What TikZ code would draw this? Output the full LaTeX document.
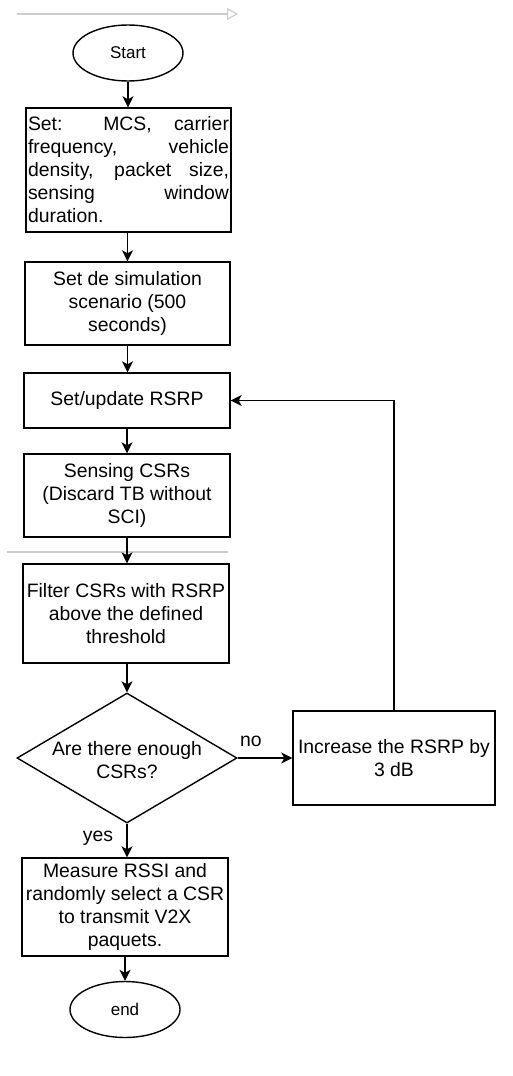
\documentclass[tikz,border=0pt]{standalone}
\usepackage{fontspec}
\setmainfont{Liberation Sans}
\usetikzlibrary{shapes.geometric,arrows.meta}
\definecolor{faint}{HTML}{CCCCCC}
\begin{document}
\begin{tikzpicture}[x=1pt,y=-1pt,
  every node/.style={font=\fontsize{19.4}{23}\selectfont},
  proc/.style={draw, line width=1.4pt, rectangle, align=center, inner sep=2pt},
  term/.style={draw, line width=1.4pt, ellipse, minimum width=110pt, minimum height=56pt, inner sep=0pt, font=\fontsize{17}{20}\selectfont},
  dec/.style={draw, line width=1.4pt, diamond, minimum width=220pt, minimum height=130pt, inner sep=0pt},
  arr/.style={line width=1.4pt, -{Stealth[length=11pt,width=11pt,inset=3pt]}},
  faintline/.style={draw=faint, line width=1.2pt},
  ]
\useasboundingbox (0,0) rectangle (513,1076);

% faint artefacts
\coordinate (g1) at (17,14);
\coordinate (g2) at (238,14);
\draw[faintline, -{Triangle[open,length=11pt,width=12pt]}] (g1) -- (g2);
\coordinate (h1) at (7,552);
\coordinate (h2) at (228,552);
\draw[faintline, line width=1.6pt] (h1) -- (h2);

\node[term] (start) at (128,53) {Start};
\node[proc, minimum width=205pt, minimum height=124pt, text width=201pt, align=justify] (b1) at (128.5,170)
  {Set: MCS, carrier\linebreak frequency, vehicle\linebreak density, packet size,\linebreak sensing window\linebreak duration.};
\node[proc, minimum width=205pt, minimum height=83pt] (b2) at (127.5,303.5) {Set de simulation\\scenario (500\\seconds)};
\node[proc, minimum width=206pt, minimum height=55pt] (b3) at (127,400.5) {Set/update RSRP};
\node[proc, minimum width=206pt, minimum height=83pt] (b4) at (127,495.5) {Sensing CSRs\\(Discard TB without\\SCI)};
\node[proc, minimum width=206pt, minimum height=99pt] (b5) at (126,613.5) {Filter CSRs with RSRP\\above the defined\\threshold};
\node[dec] (d) at (127,758) {};
\node[align=center] (dtext) at (127,760) {Are there enough\\CSRs?};
\node[proc, minimum width=202pt, minimum height=94pt] (b6) at (394,758) {Increase the RSRP by\\3 dB};
\node[proc, minimum width=206pt, minimum height=98pt] (b7) at (125,907) {Measure RSSI and\\randomly select a CSR\\to transmit V2X\\paquets.};
\node[term] (end) at (125,1009.5) {end};

\node (no) at (251,741) {no};
\node (yes) at (98,838) {yes};

\draw[arr] (start.south) -- (start.south |- b1.north);
\draw[arr] (b1.south -| b2.north) -- (b2.north);
\draw[arr] (b2.south) -- (b2.south |- b3.north);
\draw[arr] (b3.south) -- (b3.south |- b4.north);
\draw[arr] (b4.south) -- (b4.south |- b5.north);
\draw[arr] (b5.south -| d.north) -- (d.north);
\draw[arr] (d.east) -- (b6.west);
\draw[arr] (b6.north) |- (b3.east);
\draw[arr] (d.south) -- (d.south |- b7.north);
\draw[arr] (b7.south) -- (b7.south |- end.north);
\end{tikzpicture}
\end{document}
